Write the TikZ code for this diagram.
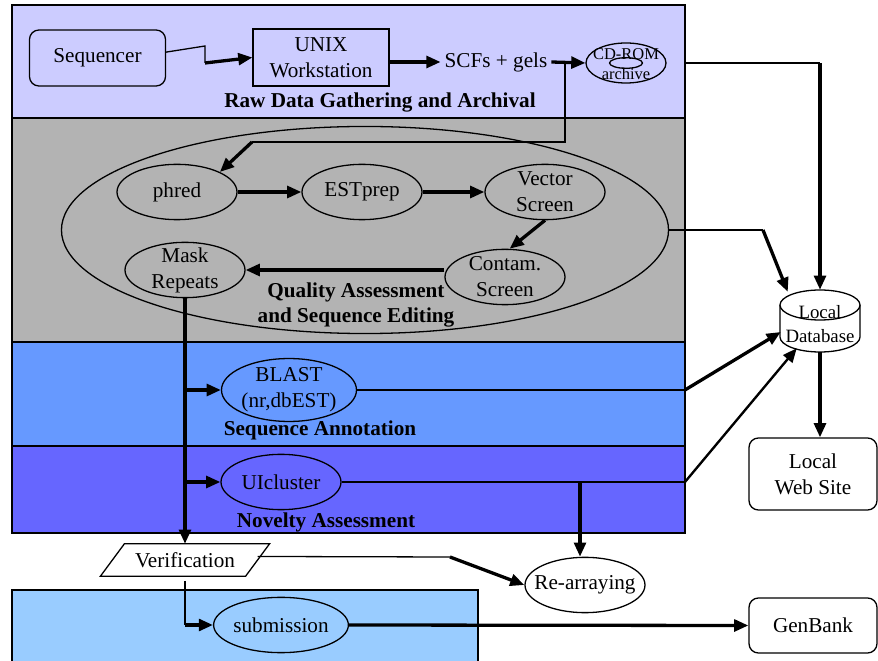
\documentclass[tikz,border=0pt]{standalone}
\usepackage{fontspec}
\setmainfont{Liberation Serif}
\usetikzlibrary{shapes.geometric, arrows.meta, calc}

\definecolor{rawblue}{HTML}{CCCCFF}
\definecolor{qagray}{HTML}{B3B3B3}
\definecolor{annblue}{HTML}{6699FF}
\definecolor{novblue}{HTML}{6666FF}
\definecolor{subblue}{HTML}{99CCFF}

\tikzset{
	band/.style={draw, line width=1.4pt, inner sep=0pt, outer sep=0pt},
	proc/.style={draw, ellipse, line width=1.1pt, minimum width=102pt, minimum height=47pt, inner xsep=0pt, inner ysep=-4pt, align=center},
	box/.style={draw, rectangle, line width=1.1pt, minimum width=115.6pt, minimum height=48pt, align=center},
	title/.style={font=\fontsize{18}{22}\selectfont\bfseries, align=center},
	thk/.style={line width=2.8pt},
	thn/.style={line width=1.1pt},
	arr/.style={-{Triangle[length=12pt, width=10pt]}},
}

\begin{document}
\begin{tikzpicture}[x=0.85pt, y=-0.85pt, font=\fontsize{18}{22}\selectfont]
				\useasboundingbox (0,0) rectangle (878,661);
				% stages
				\node[band, fill=rawblue, minimum width=572pt, minimum height=96pt] (raw) at (348.5,61.5) {};
				\node[band, fill=qagray, minimum width=572pt, minimum height=190.4pt] (qual) at (348.5,230) {};
				\node[band, fill=annblue, minimum width=572pt, minimum height=88.4pt] (annot) at (348.5,394) {};
				\node[band, fill=novblue, minimum width=572pt, minimum height=74pt] (novel) at (348.5,489.5) {};
				\node[band, fill=subblue, minimum width=396pt, minimum height=93.5pt] (subband) at (245,645) {};
				\node[title] (rawtitle) at (380,102) {Raw Data Gathering and Archival};
				\node[title] (qatitle) at (356,305) {Quality Assessment\\and Sequence Editing};
				\node[title] (annottitle) at (320,430) {Sequence Annotation};
				\node[title] (noveltitle) at (326,522) {Novelty Assessment};
				\node[draw, ellipse, line width=1.1pt, minimum width=516pt, minimum height=176pt] (qa) at (365,230) {};
				% steps
				\node[box, rounded corners=8pt, minimum height=47.6pt] (seq) at (97.5,58) {Sequencer};
				\node[box, minimum height=48.5pt] (unix) at (321,57.5) {UNIX\\Workstation};
				\node (scf) at (496,62) {SCFs + gels};
				\node[draw, ellipse, line width=1.1pt, minimum width=68pt, minimum height=34pt] (cd) at (626,63) {};
				\node[font=\fontsize{14}{17}\selectfont, align=center] (cdtxt) at (626,64) {CD-ROM\\archive};
				\draw[thn] (cd.center) ellipse [x radius=14pt, y radius=4.5pt];
				\node[proc] (phred) at (177,192) {phred};
				\node[proc] (estprep) at (362,192) {ESTprep};
				\node[proc] (vector) at (545,192) {Vector\\Screen};
				\node[proc] (contam) at (505,277) {Contam.\\Screen};
				\node[proc] (mask) at (185,270) {Mask\\Repeats};
				\node[proc, minimum width=114.75pt, minimum height=53.5pt] (blast) at (289,390) {BLAST\\(nr,dbEST)};
				\node[proc] (uic) at (281,482) {UIcluster};
				\node[inner sep=0pt, minimum width=123pt, minimum height=27.2pt] (verif) at (185,560) {Verification};
				\draw[thn] ($(verif.north west)+(12,0)$) -- ($(verif.north east)+(12,0)$) -- ($(verif.south east)+(-12,0)$) -- ($(verif.south west)+(-12,0)$) -- cycle;
				\node[proc, inner xsep=-8pt, fill=white] (rearr) at (585,585) {Re-arraying};
				\node[proc] (subm) at (281,625) {submission};
				\node[box, rounded corners=8pt, minimum width=108.8pt, minimum height=61.2pt] (web) at (813,474) {Local\\Web Site};
				\node[box, rounded corners=8pt, minimum width=108.8pt, minimum height=46.75pt] (gen) at (813,625.5) {GenBank};
				% database
				\node[inner sep=0pt, minimum width=68pt, minimum height=52.7pt] (db) at (820,321) {};
				\draw[thn, fill=white] (780,305) -- (780,337) arc[start angle=180, end angle=360, x radius=34pt, y radius=12.75pt] -- (860,305);
				\draw[thn, fill=white] (820,305) ellipse [x radius=34pt, y radius=12.75pt];
				\node[font=\fontsize{16}{21}\selectfont, align=center] (dbtxt) at (820,324) {Local\\Database};
				% raw data flow
				\coordinate (k1) at (205,46);
				\coordinate (k2) at (205,63);
				\draw[thn] ([yshift=5pt]seq.east) -- (k1) -- (k2);
				\draw[thk, arr] (k2) -- (unix.west);
				\draw[thk, arr] (unix.east |- scf) -- (scf.west);
				\draw[thk, arr] (scf.east) -- (cd.west);
				\coordinate (tap) at (565,62);
				\coordinate (tapa) at (565,142);
				\coordinate (tapb) at (252,142);
				\draw[thn] (tap) -- (tapa) -- (tapb);
				\draw[thk, arr] (tapb) -- (phred.north east);
				% editing
				\draw[thk, arr] (phred) -- (estprep);
				\draw[thk, arr] (estprep) -- (vector);
				\draw[thk, arr] (vector.south) -- ([xshift=4pt]contam.north);
				\draw[thk, arr] (contam.west |- mask.east) -- (mask.east);
				\draw[thk, arr] (mask.south) -- (verif.north);
				\draw[thk, arr] (mask.south |- blast.west) -- (blast.west);
				\draw[thk, arr] (mask.south |- uic.west) -- (uic.west);
				% verification
				\coordinate (vturn) at (450,557);
				\draw[thn] ([yshift=3pt]verif.east) -- (vturn);
				\draw[thk, arr] (vturn) -- (rearr.west);
				\draw[thn] ([yshift=-4pt]verif.south) -- (verif.south |- subm.west);
				\draw[thk, arr] (verif.south |- subm.west) -- (subm.west);
				\draw[thk, arr] (subm.east) -- (gen.west);
				% database links
				\coordinate (cdr) at (raw.east |- cd.east);
				\coordinate (cdc) at (db.north |- cd.east);
				\draw[thn] (cdr) -- (cdc);
				\draw[thk, arr] (cdc) -- (db.north);
				\coordinate (qac) at (763,230);
				\draw[thn] (qa.east) -- (qac);
				\draw[thk, arr] (qac) -- ($(db.north west)+(8,2)$);
				\coordinate (blc) at (annot.east |- blast.east);
				\draw[thn] (blast.east) -- (blc);
				\draw[thk, arr] (blc) -- ($(db.west)+(1,11)$);
				\coordinate (ucc) at (novel.east |- uic.east);
				\draw[thn] (uic.east) -- (ucc);
				\draw[line width=2pt, arr] (ucc) -- ($(db.south west)+(17,-4)$);
				\coordinate (ucd) at (580,482);
				\draw[thk, arr] (ucd) -- (ucd |- rearr.north);
				\draw[thk, arr] (db.south) -- (db.south |- web.north);
			\end{tikzpicture}
\end{document}
